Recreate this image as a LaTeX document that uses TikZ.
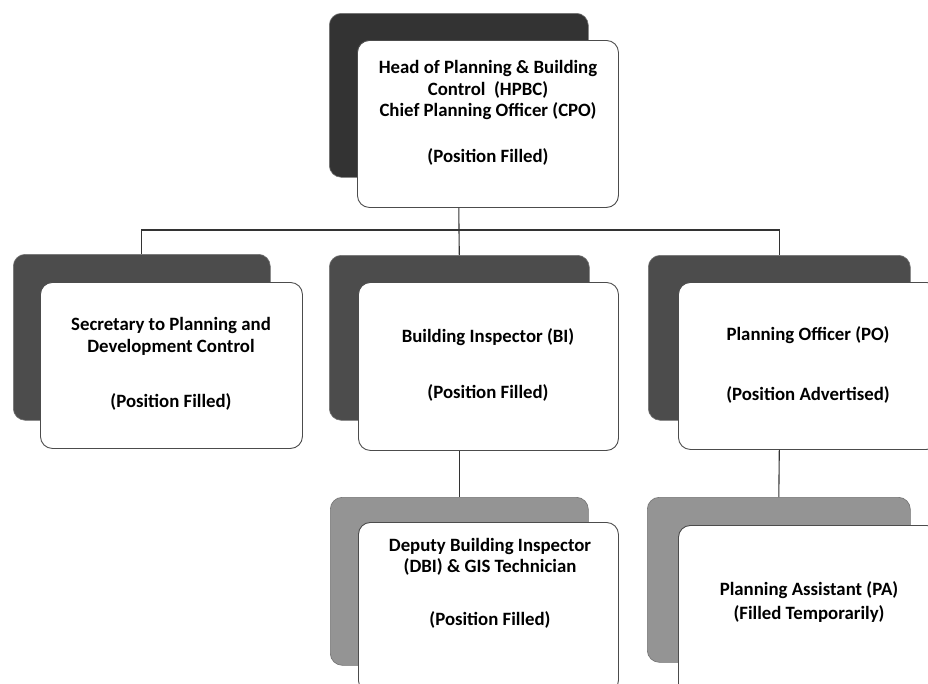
\documentclass[tikz,border=0pt]{standalone}
\usepackage{fontspec}
\setmainfont{Carlito}
\begin{document}
\begin{tikzpicture}[x=1pt,y=-1pt,
  shad/.style={draw=black!55, rounded corners=12pt, anchor=north west, inner sep=0pt, line width=0.6pt},
  darkshad/.style={shad, fill=black!80},
  midshad/.style={shad, fill=black!70},
  lightshad/.style={shad, fill=black!42},
  card/.style={draw=black!70, fill=white, rounded corners=12pt, anchor=north west, inner sep=0pt, line width=0.9pt},
  lbl/.style={font=\bfseries\fontsize{18.8}{21.5}\selectfont, align=center, text=black},
  conn/.style={draw=black!80, line width=1.1pt}]
\path[use as bounding box, clip] (0,0) rectangle (928,683);
\fill[white] (0,0) rectangle (928,683);
% top
\node[darkshad, minimum width=259pt, minimum height=164pt] (topS) at (329,13) {};
\node[card, minimum width=261pt, minimum height=167pt] (topW) at (357,40) {};
\node[lbl] (topT) at (488,113) {Head of Planning \& Building\\Control\ \ (HPBC)\\Chief Planning Officer (CPO)\\[24pt](Position Filled)};
% left
\node[midshad, minimum width=257pt, minimum height=166pt] (leftS) at (13,254) {};
\node[card, minimum width=262pt, minimum height=166pt] (leftW) at (40,282) {};
\node[lbl] (leftT) at (171,364) {Secretary to Planning and\\Development Control\\[34pt](Position Filled)};
% middle
\node[midshad, minimum width=260pt, minimum height=165pt] (midS) at (329,255) {};
\node[card, minimum width=260pt, minimum height=168pt] (midW) at (358,282) {};
\node[lbl] (midT) at (488,365) {Building Inspector (BI)\\[34pt](Position Filled)};
% right
\node[midshad, minimum width=262pt, minimum height=165pt] (rightS) at (648,255) {};
\node[card, minimum width=260pt, minimum height=167pt] (rightW) at (678,282) {};
\node[lbl] (rightT) at (808,365) {Planning Officer (PO)\\[38pt](Position Advertised)};
% bottom middle
\node[lightshad, minimum width=258pt, minimum height=168pt] (bmS) at (330,497) {};
\node[card, minimum width=260pt, minimum height=170pt] (bmW) at (358,522) {};
\node[lbl] (bmT) at (490,583) {Deputy Building Inspector\\(DBI) \& GIS Technician\\[31pt](Position Filled)};
% bottom right
\node[lightshad, minimum width=263pt, minimum height=165pt] (brS) at (647,497) {};
\node[card, minimum width=260pt, minimum height=170pt] (brW) at (678,525) {};
\node[lbl] (brT) at (809,602) {Planning Assistant (PA)\\[3pt](Filled Temporarily)};
% connectors
\coordinate (bus) at (459,230);
\draw[conn] (topW.south -| topS.center) -- (bus);
\draw[conn] (leftS.north) |- (bus) -| (rightS.north);
\draw[conn] (bus) -- (midS.north);
\draw[conn] (midW.south -| midS.north) -- (bmS.north);
\draw[conn] (rightW.south -| rightS.north) -- (brS.north);
\end{tikzpicture}
\end{document}
